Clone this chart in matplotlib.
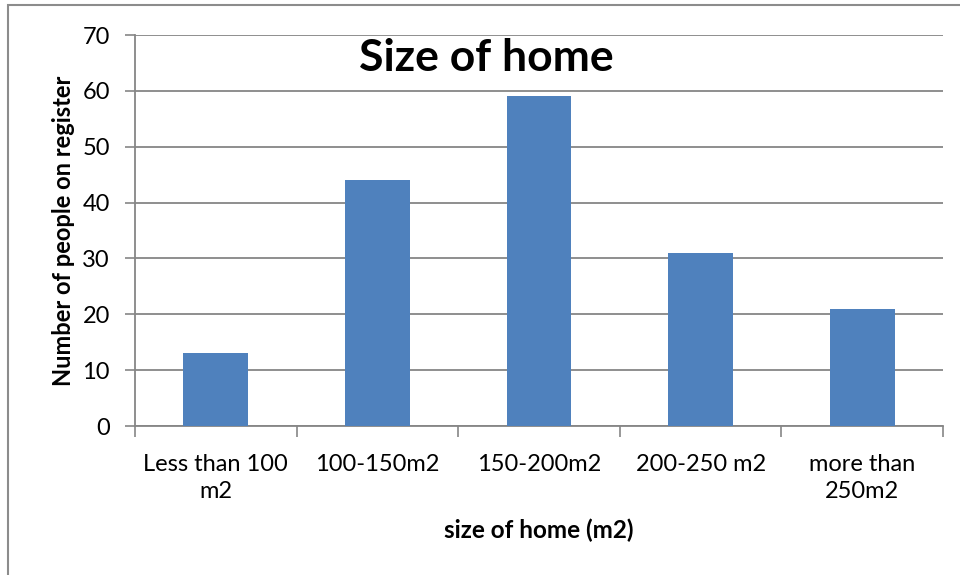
import numpy as np
import matplotlib.pyplot as plt
from matplotlib.patches import Rectangle

# register counts per home size band
categories = ['Less than 100\nm2', '100-150m2', '150-200m2', '200-250 m2', 'more than\n250m2']
people = [13, 44, 59, 31, 21]

plt.rcParams['font.family'] = ['Lato', 'DejaVu Sans']

fig = plt.figure(figsize=(9.6, 5.75), dpi=100)
ax = fig.add_axes([0.1406, 0.2591, 0.8417, 0.68])

# outer chart frame
fig.patches.append(Rectangle((8 / 960, -0.05), 1.1, 1 - 5 / 575 + 0.05,
                             transform=fig.transFigure, fill=False,
                             edgecolor='#8c8c8c', linewidth=1.5))

grey = '#868686'
x = np.arange(len(categories))
ax.bar(x, people, width=0.4, color='#4F81BD', zorder=3)

ax.set_xlim(-0.5, len(categories) - 0.5)
ax.set_ylim(0, 70)
ax.set_yticks(range(0, 71, 10))
ax.yaxis.grid(True, color=grey, linewidth=1.3, zorder=0)
ax.tick_params(axis='y', length=7, width=1.2, color=grey, labelsize=17, pad=11)

# category labels centred under bars, ticks on the boundaries
ax.set_xticks(x)
ax.set_xticklabels(categories, fontsize=17, linespacing=1.35)
ax.tick_params(axis='x', which='major', length=0, pad=20)
ax.set_xticks(np.arange(-0.5, len(categories)), minor=True)
ax.tick_params(axis='x', which='minor', length=8, width=1.2, color=grey)

for side in ['top', 'right']:
    ax.spines[side].set_visible(False)
for side in ['left', 'bottom']:
    ax.spines[side].set_color(grey)
    ax.spines[side].set_linewidth(1.3)

ax.set_xlabel('size of home (m2)', fontsize=17.5, fontweight='bold', labelpad=12)
ax.set_ylabel('Number of people on register', fontsize=17, fontweight='bold', labelpad=5)
ax.text(0.4345, 0.94, 'Size of home', transform=ax.transAxes, ha='center', va='center',
        fontsize=32, fontweight='bold')

fig.savefig('out.png', dpi=100)
